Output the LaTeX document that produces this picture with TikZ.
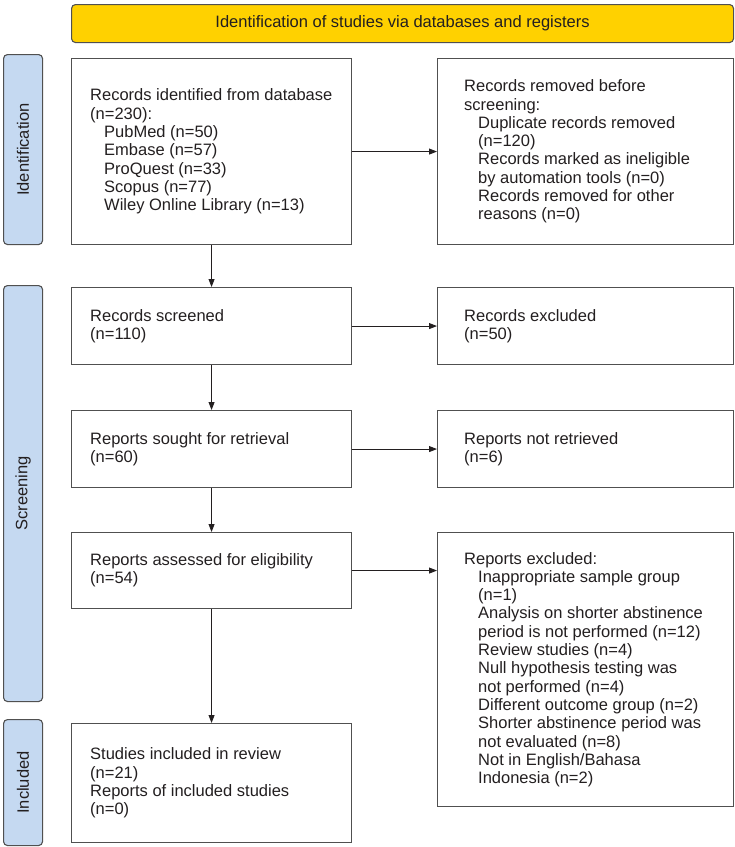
\documentclass[tikz,border=0pt]{standalone}
\usepackage{fontspec}
\setmainfont{Liberation Sans}
\usetikzlibrary{arrows.meta}
\definecolor{ttl}{HTML}{FFD100}
\definecolor{sidefill}{HTML}{C5D9F1}
\definecolor{edge}{HTML}{505050}
\definecolor{ink}{HTML}{231F20}
\newcommand{\myind}{\hspace*{14pt}}
\begin{document}
\begin{tikzpicture}[x=1pt,y=-1pt,
  font=\fontsize{16.5}{18.3}\selectfont, text=ink,
  box/.style={draw=edge, line width=1.1pt, fill=white, inner sep=0pt, anchor=north west},
  sidebar/.style={draw=edge, line width=1.1pt, fill=sidefill, rounded corners=4pt, inner sep=0pt, anchor=north west, minimum width=39pt},
  txt/.style={anchor=west, align=left, inner sep=0pt},
  arr/.style={draw=ink, line width=0.9pt, -{Triangle[length=8pt,width=6pt]}}]
\useasboundingbox (0,0) rectangle (735,847);

% title
\node[draw=edge, line width=1.1pt, fill=ttl, rounded corners=4pt, anchor=north west,
      minimum width=662pt, minimum height=38pt, inner sep=0pt] (title) at (71,4)
      {Identification of studies via databases and registers};

% side bars
\node[sidebar, minimum height=190pt] (sid) at (3,54) {};
\node[rotate=90, inner sep=0pt] (sidt) at (sid.center) {Identification};
\node[sidebar, minimum height=416pt] (sscr) at (3,285) {};
\node[rotate=90, inner sep=0pt] (sscrt) at (sscr.center) {Screening};
\node[sidebar, minimum height=126pt] (sinc) at (3,719) {};
\node[rotate=90, inner sep=0pt] (sinct) at (sinc.center) {Included};

% left column boxes
\node[box, minimum width=280pt, minimum height=186pt] (b1) at (71,58) {};
\node[txt] (b1t) at ([xshift=19pt]b1.west) {Records identified from database\\(n=230):\\\myind PubMed (n=50)\\\myind Embase (n=57)\\\myind ProQuest (n=33)\\\myind Scopus (n=77)\\\myind Wiley Online Library (n=13)};

\node[box, minimum width=280pt, minimum height=77pt] (b2) at (71,287) {};
\node[txt] (b2t) at ([xshift=19pt]b2.west) {Records screened\\(n=110)};

\node[box, minimum width=280pt, minimum height=77pt] (b3) at (71,410) {};
\node[txt] (b3t) at ([xshift=19pt]b3.west) {Reports sought for retrieval\\(n=60)};

\node[box, minimum width=280pt, minimum height=76pt] (b4) at (71,532) {};
\node[txt] (b4t) at ([xshift=19pt]b4.west) {Reports assessed for eligibility\\(n=54)};

\node[box, minimum width=280pt, minimum height=119pt] (b5) at (71,723) {};
\node[txt] (b5t) at ([xshift=19pt]b5.west) {Studies included in review\\(n=21)\\Reports of included studies\\(n=0)};

% right column boxes
\node[box, minimum width=296pt, minimum height=186pt] (r1) at (437,58) {};
\node[txt] (r1t) at ([xshift=27pt]r1.west) {Records removed before\\screening:\\\myind Duplicate records removed\\\myind (n=120)\\\myind Records marked as ineligible\\\myind by automation tools (n=0)\\\myind Records removed for other\\\myind reasons (n=0)};

\node[box, minimum width=296pt, minimum height=77pt] (r2) at (437,287) {};
\node[txt] (r2t) at ([xshift=27pt]r2.west) {Records excluded\\(n=50)};

\node[box, minimum width=296pt, minimum height=77pt] (r3) at (437,410) {};
\node[txt] (r3t) at ([xshift=27pt]r3.west) {Reports not retrieved\\(n=6)};

\node[box, minimum width=296pt, minimum height=274pt] (r4) at (437,532) {};
\node[txt] (r4t) at ([xshift=27pt]r4.west) {Reports excluded:\\\myind Inappropriate sample group\\\myind (n=1)\\\myind Analysis on shorter abstinence\\\myind period is not performed (n=12)\\\myind Review studies (n=4)\\\myind Null hypothesis testing was\\\myind not performed (n=4)\\\myind Different outcome group (n=2)\\\myind Shorter abstinence period was\\\myind not evaluated (n=8)\\\myind Not in English/Bahasa\\\myind Indonesia (n=2)};

% arrows
\draw[arr] (b1.south) -- (b2.north);
\draw[arr] (b2.south) -- (b3.north);
\draw[arr] (b3.south) -- (b4.north);
\draw[arr] (b4.south) -- (b5.north);
\draw[arr] (b1.east) -- (r1.west);
\draw[arr] (b2.east) -- (r2.west);
\draw[arr] (b3.east) -- (r3.west);
\draw[arr] (b4.east) -- (b4.east -| r4.west);
\end{tikzpicture}
\end{document}
